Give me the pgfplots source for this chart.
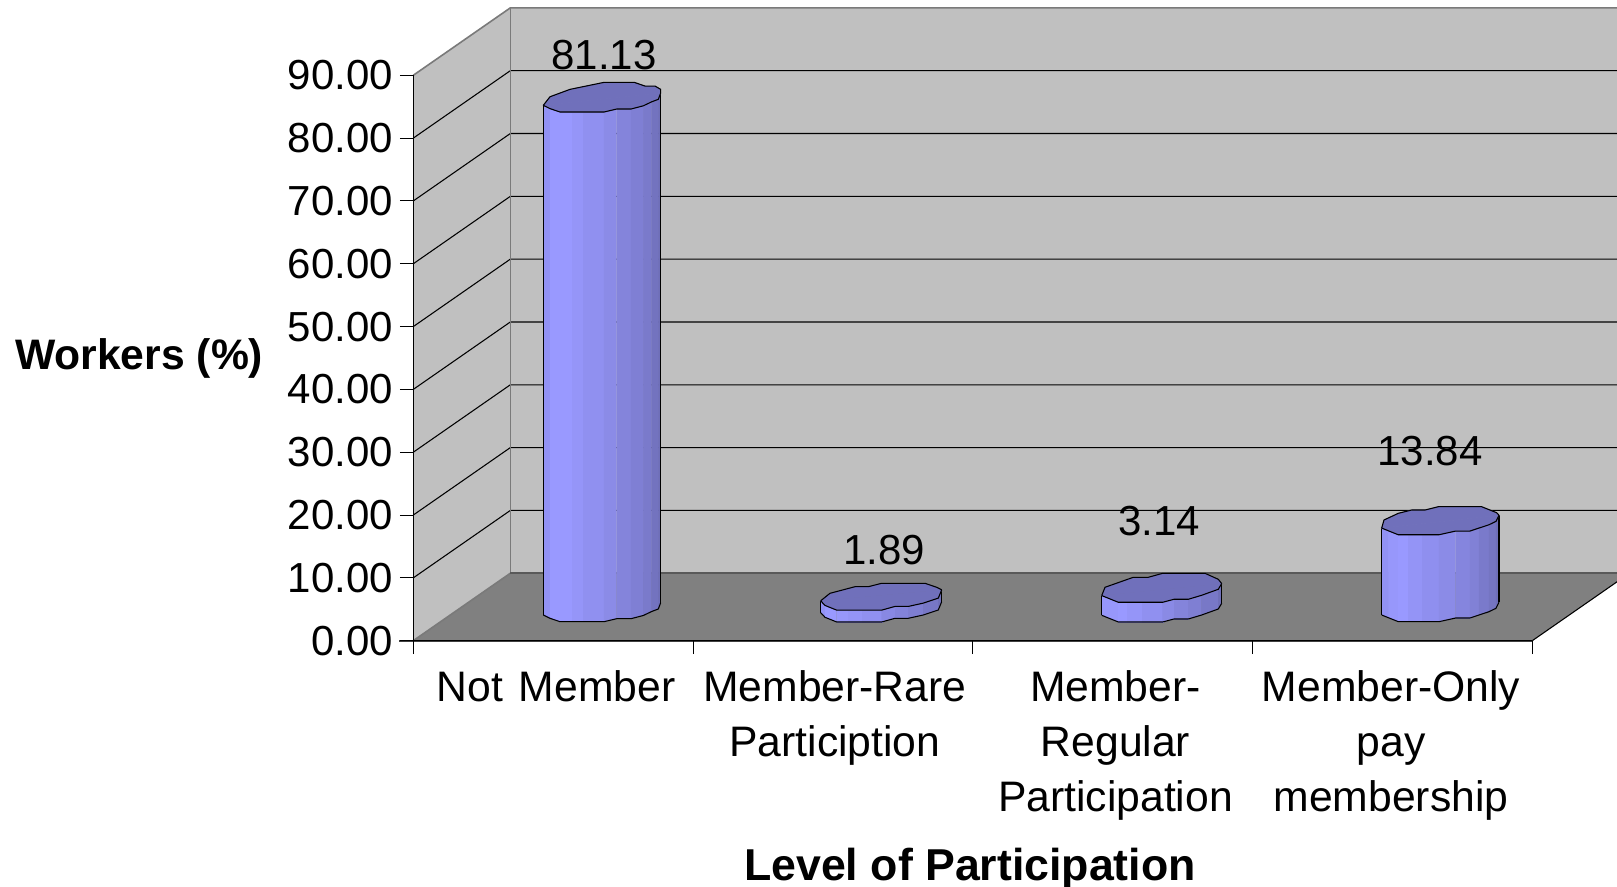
\documentclass[border=0pt]{standalone}
\usepackage{fontspec}
\setmainfont{Liberation Sans}
\usepackage{pgfplots}
\usepackage{pgfplotstable}
\pgfplotsset{compat=1.18}

\definecolor{wall}{HTML}{C0C0C0}
\definecolor{floorgray}{HTML}{808080}
\definecolor{edgegray}{HTML}{7A7A7A}
\definecolor{cylhi}{HTML}{9999FF}
\definecolor{cyllo}{HTML}{6D6DB5}
\definecolor{cyltop}{HTML}{7070BB}

% outlines in its own pixels, see \cylinder
\pgfplotstableread{
px py sh
543.3 615.0 0
550.0 618.3 85
560.0 621.7 100
571.7 621.7 100
583.3 621.7 90
604.0 621.7 80
616.7 618.7 68
631.0 618.7 52
643.3 615.5 42
651.7 611.5 30
658.3 609.0 14
660.7 602.7 5
}\barone
\pgfplotstableread{
px py
660.7 93.0
660.7 89.3
655.0 86.0
645.0 86.0
634.3 82.3
604.0 82.3
570.0 89.3
550.0 96.7
543.3 105.3
}\baroneback

\pgfplotstableread{
px py sh
820.7 612.7 0
825.0 617.3 85
836.7 622.0 100
848.3 622.0 95
861.7 622.0 88
881.7 622.0 80
895.0 618.3 62
908.3 618.3 50
923.3 615.0 38
938.3 610.0 22
941.7 601.7 5
}\bartwo
\pgfplotstableread{
px py
941.7 589.8
936.7 587.3
925.0 583.3
881.7 583.3
868.3 586.7
855.0 586.7
830.0 593.3
820.7 600.8
}\bartwoback

\pgfplotstableread{
px py sh
1101.7 615.3 0
1118.3 622.0 95
1126.7 622.0 100
1141.7 622.0 90
1162.7 622.0 80
1174.0 619.0 65
1188.3 619.0 52
1201.7 615.0 40
1218.3 609.0 25
1221.7 603.3 5
}\barthree
\pgfplotstableread{
px py
1221.7 583.6
1218.3 579.3
1205.0 573.3
1162.7 573.3
1148.3 577.3
1133.3 577.3
1105.0 587.3
1101.7 595.6
}\barthreeback

\pgfplotstableread{
px py sh
1381.7 615.0 0
1388.3 617.7 85
1398.3 621.7 95
1408.3 621.7 100
1421.7 621.7 88
1439.0 621.7 78
1455.7 618.0 68
1470.0 618.0 55
1479.0 615.0 45
1489.0 611.7 30
1496.0 608.3 18
1499.0 602.3 5
}\barfour
\pgfplotstableread{
px py
1499.0 515.3
1496.7 512.7
1481.7 506.7
1438.3 506.7
1425.0 510.0
1411.7 510.0
1398.3 513.3
1384.0 520.0
1381.7 528.0
}\barfourback

% #1 front contour, #2 back of the top, #3 value
\newcommand{\cylinder}[3]{%
  \pgfplotstablegetrowsof{#1}%
  \pgfmathtruncatemacro{\last}{\pgfplotsretval-1}%
  \foreach \i in {1,...,\last}{%
    \pgfmathtruncatemacro{\j}{\i-1}%
    \pgfplotstablegetelem{\j}{px}\of{#1}\pgfmathsetmacro{\xa}{(\pgfplotsretval-413.3)/279.75}%
    \pgfplotstablegetelem{\j}{py}\of{#1}\pgfmathsetmacro{\ya}{(640.7-\pgfplotsretval)/6.283}%
    \pgfplotstablegetelem{\i}{px}\of{#1}\pgfmathsetmacro{\xb}{(\pgfplotsretval-413.3)/279.75}%
    \pgfplotstablegetelem{\i}{py}\of{#1}\pgfmathsetmacro{\yb}{(640.7-\pgfplotsretval)/6.283}%
    \pgfplotstablegetelem{\i}{sh}\of{#1}\let\shade\pgfplotsretval
    \pgfmathsetmacro{\yc}{\ya+#3}\pgfmathsetmacro{\yd}{\yb+#3}%
    \edef\temp{\noexpand\addplot[fill=cylhi!\shade!cyllo, draw=cylhi!\shade!cyllo, line width=.3pt]
      coordinates {(\xa,\ya)(\xb,\yb)(\xb,\yd)(\xa,\yc)} --cycle;}\temp
    \ifnum\j=0
      \edef\temp{\noexpand\addplot[black, line width=.8pt] coordinates {(\xa,\ya)(\xa,\yc)};}\temp
    \fi
    \ifnum\i=\last
      \edef\temp{\noexpand\addplot[black, line width=.8pt] coordinates {(\xb,\yb)(\xb,\yd)};}\temp
    \fi
  }
  \addplot[fill=cyltop, draw=cyltop] table[x expr=(\thisrow{px}-413.3)/279.75, y expr=(640.7-\thisrow{py})/6.283+#3] {#1} --cycle;
  \addplot[fill=cyltop, draw=cyltop] table[x expr=(\thisrow{px}-413.3)/279.75, y expr=(640.7-\thisrow{py})/6.283] {#2} --cycle;
  \addplot[black, line width=.8pt] table[x expr=(\thisrow{px}-413.3)/279.75, y expr=(640.7-\thisrow{py})/6.283] {#1};
  \addplot[black, line width=.8pt] table[x expr=(\thisrow{px}-413.3)/279.75, y expr=(640.7-\thisrow{py})/6.283+#3] {#1};
  \addplot[black, line width=.8pt] table[x expr=(\thisrow{px}-413.3)/279.75, y expr=(640.7-\thisrow{py})/6.283] {#2};
}

\begin{document}
\begin{tikzpicture}
  \useasboundingbox (0,0) rectangle (1212.75pt,665.25pt);
  \clip (0,0) rectangle (1212.75pt,665.25pt);
  \begin{axis}[
    at={(309.975pt,184.725pt)}, anchor=south west,
    scale only axis, width=839.25pt, height=424.05pt,
    xmin=0, xmax=4, ymin=0, ymax=90,
    clip=false, axis on top,
    axis x line=bottom, axis y line=left,
    axis line style={-, black, line width=.8pt},
    every axis plot/.append style={no markers, forget plot},
    tick align=outside,
    tick style={black, line width=.8pt},
    major tick length=10pt,
    xtick={0,1,2,3,4},
    xticklabels={},
    extra x ticks={0.51,1.507,2.51,3.495},
    extra x tick labels={Not\hspace{.1em}\ Member,{Member-Rare\\Particiption},{Member-\\Regular\\Participation},{Member-Only\\pay\\membership}},
    extra x tick style={major tick length=0pt},
    ytick={0,10,...,90},
    y tick label style={/pgf/number format/fixed, /pgf/number format/fixed zerofill, /pgf/number format/precision=2, /pgf/number format/assume math mode=true, inner sep=0pt, xshift=-5pt, font=\fontsize{31.5}{41}\selectfont},
    x tick label style={align=center, anchor=north, inner sep=0pt, yshift=-22.5pt, font=\fontsize{32}{41}\selectfont},
    xlabel={Level of Participation},
    ylabel={Workers (\%)},
    xlabel style={font=\fontsize{33.5}{38}\selectfont\bfseries, at={(axis description cs:0.4975,-0.403)}, anchor=center},
    ylabel style={font=\fontsize{32}{38}\selectfont\bfseries, at={(axis description cs:-0.245,0.5)}, anchor=center, rotate=-90},
  ]
    % walls and floor
    \addplot[fill=wall, draw=none] coordinates {(0.3467,10.73)(4.3467,10.73)(4.3467,100.73)(0.3467,100.73)} --cycle;
    \addplot[fill=wall, draw=none] coordinates {(0,0)(0.3467,10.73)(0.3467,100.73)(0,90)} --cycle;
    \addplot[fill=floorgray, draw=none] coordinates {(0,0)(4,0)(4.3467,10.73)(0.3467,10.73)} --cycle;

    \foreach \v in {10,20,...,80}{
      \pgfmathsetmacro{\w}{\v+10.73}
      \edef\temp{\noexpand\addplot[black, line width=.8pt] coordinates {(0,\v)(0.3467,\w)(4.3467,\w)};}\temp
    }
    \addplot[edgegray, line width=1.2pt] coordinates {(0,90)(0.3467,100.73)(4.3467,100.73)};
    \addplot[edgegray, line width=1pt] coordinates {(0.3467,10.73)(0.3467,100.73)};
    \addplot[edgegray, line width=1.2pt] coordinates {(0,0)(0.3467,10.73)};
    \addplot[black!65, line width=1.5pt] coordinates {(0.3467,10.73)(4.3467,10.73)};
    \addplot[black, line width=.8pt] coordinates {(4,0)(4.3467,10.73)};
    \addplot[black!75, line width=1.5pt] coordinates {(-0.05,0)(4,0)};

    \cylinder{\barone}{\baroneback}{81.13}
    \cylinder{\bartwo}{\bartwoback}{1.89}
    \cylinder{\barthree}{\barthreeback}{3.14}
    \cylinder{\barfour}{\barfourback}{13.84}

    \node[font=\fontsize{31.5}{38}\selectfont] at (axis cs:0.682,93.2) {81.13};
    \node[font=\fontsize{31.5}{38}\selectfont] at (axis cs:1.684,14.4) {1.89};
    \node[font=\fontsize{31.5}{38}\selectfont] at (axis cs:2.666,19.0) {3.14};
    \node[font=\fontsize{31.5}{38}\selectfont] at (axis cs:3.634,30.2) {13.84};
  \end{axis}
\end{tikzpicture}
\end{document}
